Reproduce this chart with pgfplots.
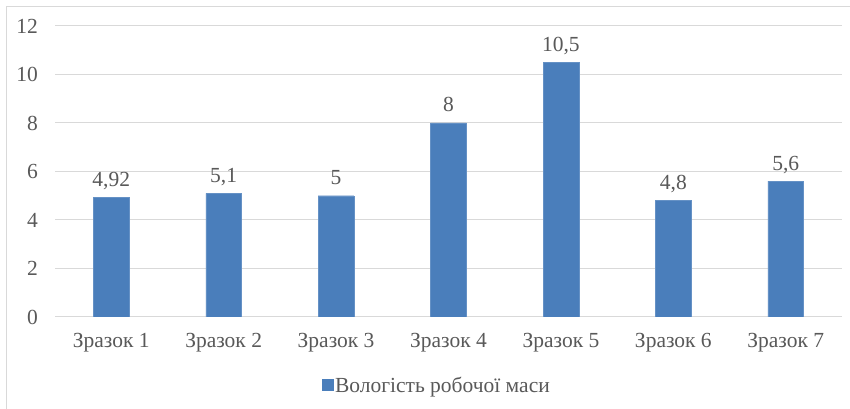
\documentclass[border=0pt]{standalone}
\usepackage{fontspec}
\setmainfont{Liberation Serif}
\usepackage{pgfplots}
\pgfplotsset{compat=1.18}
\definecolor{barc}{HTML}{4A7EBB}
\definecolor{txt}{HTML}{595959}
\definecolor{grd}{HTML}{D9D9D9}
\newcommand\cf{\fontsize{21.5bp}{25bp}\selectfont}
\begin{document}
\begin{tikzpicture}
\path[use as bounding box] (0,0) rectangle (850bp,409bp);
\fill[white] (0,0) rectangle (850bp,409bp);
\draw[grd, line width=1bp] (6.5bp,-10bp) -- (6.5bp,402.5bp) -- (860bp,402.5bp);
\begin{axis}[
  at={(55bp,92bp)}, anchor=south west,
  scale only axis, width=787bp, height=291bp,
  xmin=-0.5, xmax=6.5, ymin=0, ymax=12,
  ytick={0,2,...,12},
  xtick={0,...,6},
  xticklabels={Зразок 1,Зразок 2,Зразок 3,Зразок 4,Зразок 5,Зразок 6,Зразок 7},
  axis line style={draw=none},
  major tick length=0pt,
  ymajorgrids, grid style={grd, line width=1bp},
  /pgf/number format/assume math mode=true,
  /pgf/number format/use comma,
  yticklabel style={font=\cf, text=txt, anchor=east, inner sep=0pt, xshift=-17bp},
  xticklabel style={font=\cf, text=txt, anchor=center, inner sep=0pt, yshift=-26bp},
  ybar, bar width=35.7bp,
  nodes near coords,
  every node near coord/.append style={font=\cf, text=txt, anchor=base, inner sep=0pt, yshift=11bp},
  legend style={at={(0.485,-0.234)}, anchor=center, draw=none, fill=none, font=\cf, text=txt,
    nodes={inner sep=2bp}},
  legend image code/.code={\fill[barc] (0bp,-5.5bp) rectangle (11bp,5.5bp);},
]
\addplot[fill=barc, draw=barc!85!white] coordinates {(0,4.92) (1,5.1) (2,5) (3,8) (4,10.5) (5,4.8) (6,5.6)};
\addlegendentry{Вологість робочої маси}
\end{axis}
\end{tikzpicture}
\end{document}
